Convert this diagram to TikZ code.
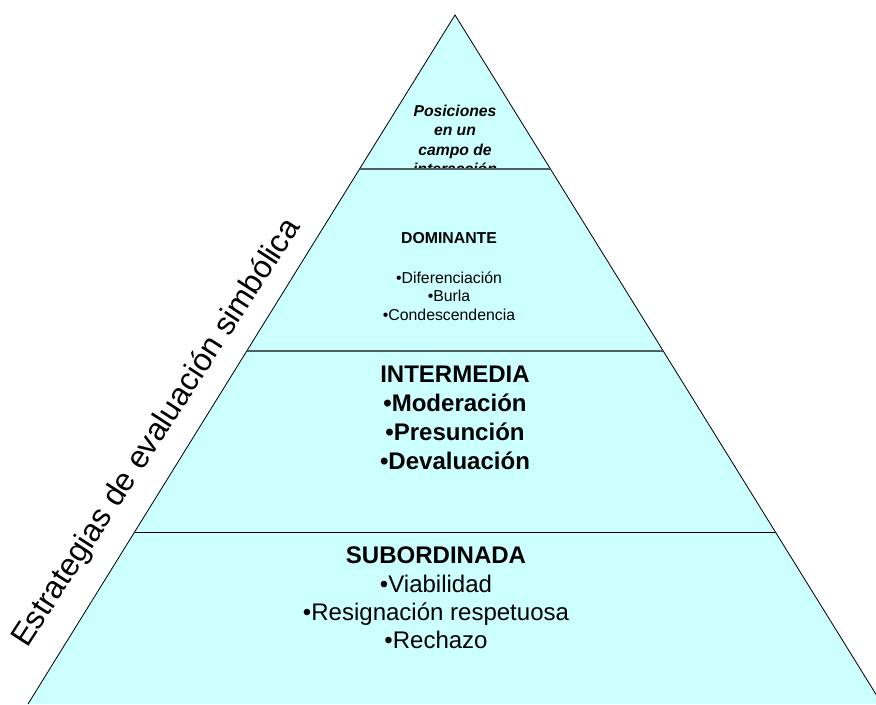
\documentclass[tikz,border=0pt]{standalone}
\usepackage{fontspec}
\setmainfont{Liberation Sans}
\usetikzlibrary{calc}

\definecolor{bandfill}{RGB}{204,255,255}
\definecolor{bandline}{RGB}{80,96,96}

\tikzset{
  bandtext/.style={align=center,inner sep=0pt,anchor=north},
  edgeline/.style={draw=black,line width=0.7pt},
}

\begin{document}
\begin{tikzpicture}[x=0.03cm,y=-0.03cm]
  \useasboundingbox (0,0) rectangle (876,704);
  \clip (0,0) rectangle (876,704);

  % pyramid
  \coordinate (apex) at (455,15);
  \coordinate (baseL) at (28,704);
  \coordinate (baseR) at (882,704);
  \fill[bandfill] (baseL) -- (apex) -- (baseR) -- cycle;

  % top level, cut off by the first border
  \begin{scope}
    \clip (0,0) rectangle (876,169);
    \node[bandtext,font=\fontsize{13.4pt}{16.6pt}\selectfont\bfseries\itshape] (pos) at (455,104.8)
      {Posiciones\\en un\\campo de\\interacción};
  \end{scope}

  \draw[edgeline] (baseL) -- (apex) -- (baseR);

  % borders between levels
  \coordinate (b1L) at ($(apex)!0.2235!(baseL)$);
  \coordinate (b1R) at ($(apex)!0.2235!(baseR)$);
  \coordinate (b2L) at ($(apex)!0.4877!(baseL)$);
  \coordinate (b2R) at ($(apex)!0.4877!(baseR)$);
  \coordinate (b3L) at ($(apex)!0.7504!(baseL)$);
  \coordinate (b3R) at ($(apex)!0.7504!(baseR)$);
  \draw[draw=bandline,line width=0.9pt] (b1L) -- (b1R);
  \draw[draw=bandline,line width=1.5pt] (b2L) -- (b2R);
  \draw[edgeline] (b3L) -- (b3R);

  % levels
  \node[bandtext,font=\fontsize{13.5pt}{16pt}\selectfont] (dom) at (449,232.7)
    {\textbf{DOMINANTE}\\[17.5pt]•Diferenciación\\•Burla\\•Condescendencia};
  \node[bandtext,font=\fontsize{20.5pt}{24.7pt}\selectfont\bfseries] (inter) at (455,366.1)
    {INTERMEDIA\\•Moderación\\•Presunción\\•Devaluación};
  \node[bandtext,font=\fontsize{20.5pt}{24.2pt}\selectfont] (sub) at (436,546.8)
    {\textbf{SUBORDINADA}\\•Viabilidad\\•Resignación respetuosa\\•Rechazo};

  % side label
  \node[anchor=base west,rotate=57,inner sep=0pt,font=\fontsize{27pt}{32pt}\selectfont] (side) at (27,649)
    {Estrategias de evaluación simbólica};
\end{tikzpicture}
\end{document}
